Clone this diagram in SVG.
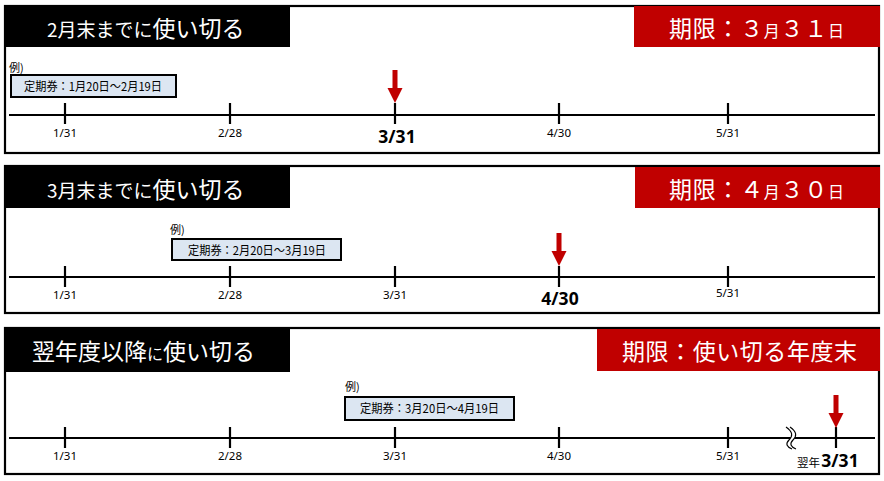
<svg xmlns="http://www.w3.org/2000/svg" width="884" height="481" viewBox="0 0 884 481">
<defs>
<style>
.panel{fill:#fff;stroke:#000;stroke-width:2.2}
.hdr{fill:#000}
.red{fill:#c00000}
.ht{font-family:"Noto Sans CJK JP","Noto Sans",sans-serif;fill:#fff}
.line{stroke:#000;stroke-width:2;fill:none}
.tick{stroke:#000;stroke-width:2.2}
.lbl{font-family:"Noto Sans","DejaVu Sans",sans-serif;font-size:11.5px;fill:#000;text-anchor:middle}
.big{font-family:"Noto Sans","DejaVu Sans",sans-serif;font-size:17.5px;font-weight:bold;fill:#000;text-anchor:middle}
.ex{font-family:"Noto Sans CJK JP",sans-serif;font-size:11px;fill:#000}
.box{fill:#dce6f2;stroke:#000;stroke-width:2}
.bt{font-family:"Noto Sans CJK JP",sans-serif;font-size:12px;fill:#000}
.arrow{fill:#c00000}
</style>
<g id="arr"><rect x="-2.5" y="0" width="5" height="19" class="arrow"/><polygon points="-7.5,18 7.5,18 0,33" class="arrow"/></g>
</defs>

<g id="panel1">
<rect class="panel" x="5" y="6" width="874" height="147"/>
<rect class="hdr" x="4" y="5" width="286" height="42"/>
<rect class="red" x="634" y="6" width="246" height="41"/>
<text class="ht" x="47" y="37"><tspan font-size="19">2月末までに</tspan><tspan font-size="23">使い切る</tspan></text>
<text class="ht" x="669" y="37" textLength="175"><tspan font-size="23">期限：３</tspan><tspan font-size="16">月</tspan><tspan font-size="23">３１</tspan><tspan font-size="16">日</tspan></text>
<text class="ex" x="9" y="72">例)</text>
<rect class="box" x="11" y="75" width="165" height="22"/>
<text class="bt" x="24" y="91" textLength="138" lengthAdjust="spacingAndGlyphs">定期券：1月20日～2月19日</text>
<line class="line" x1="9" y1="115" x2="875" y2="115"/>
<g class="tick"><line x1="65" y1="103" x2="65" y2="124"/><line x1="230" y1="103" x2="230" y2="124"/><line x1="395" y1="103" x2="395" y2="124"/><line x1="559" y1="103" x2="559" y2="124"/><line x1="728" y1="103" x2="728" y2="124"/></g>
<text class="lbl" x="65" y="137">1/31</text>
<text class="lbl" x="230" y="137">2/28</text>
<text class="big" x="397" y="143">3/31</text>
<text class="lbl" x="559" y="137">4/30</text>
<text class="lbl" x="728" y="137">5/31</text>
<use href="#arr" x="395" y="70"/>
</g>

<g id="panel2">
<rect class="panel" x="5" y="166" width="874" height="147"/>
<rect class="hdr" x="4" y="165" width="286" height="43"/>
<rect class="red" x="635" y="167" width="245" height="41"/>
<text class="ht" x="47" y="198"><tspan font-size="19">3月末までに</tspan><tspan font-size="23">使い切る</tspan></text>
<text class="ht" x="669" y="198" textLength="175"><tspan font-size="23">期限：４</tspan><tspan font-size="16">月</tspan><tspan font-size="23">３０</tspan><tspan font-size="16">日</tspan></text>
<text class="ex" x="170" y="234">例)</text>
<rect class="box" x="172" y="239" width="169" height="21"/>
<text class="bt" x="188" y="255" textLength="138" lengthAdjust="spacingAndGlyphs">定期券：2月20日～3月19日</text>
<line class="line" x1="9" y1="277" x2="875" y2="277"/>
<g class="tick"><line x1="65" y1="266" x2="65" y2="287"/><line x1="230" y1="266" x2="230" y2="287"/><line x1="395" y1="266" x2="395" y2="287"/><line x1="559" y1="266" x2="559" y2="287"/><line x1="728" y1="266" x2="728" y2="287"/></g>
<text class="lbl" x="65" y="299">1/31</text>
<text class="lbl" x="230" y="299">2/28</text>
<text class="lbl" x="395" y="299">3/31</text>
<text class="big" x="560" y="305">4/30</text>
<text class="lbl" x="728" y="297" font-size="9.5">5/31</text>
<use href="#arr" x="559" y="233"/>
</g>

<g id="panel3">
<rect class="panel" x="5" y="328" width="874" height="146"/>
<rect class="hdr" x="4" y="327" width="286" height="45"/>
<rect class="red" x="597" y="329" width="283" height="42"/>
<text class="ht" x="32" y="360"><tspan font-size="23">翌年度以降</tspan><tspan font-size="16">に</tspan><tspan font-size="23">使い切る</tspan></text>
<text class="ht" x="622" y="360" font-size="23" textLength="235">期限：使い切る年度末</text>
<text class="ex" x="345" y="391">例)</text>
<rect class="box" x="345" y="397" width="169" height="23"/>
<text class="bt" x="360" y="413" textLength="139" lengthAdjust="spacingAndGlyphs">定期券：3月20日～4月19日</text>
<line class="line" x1="9" y1="438" x2="875" y2="438"/>
<g class="tick"><line x1="65" y1="427" x2="65" y2="448"/><line x1="230" y1="427" x2="230" y2="448"/><line x1="395" y1="427" x2="395" y2="448"/><line x1="559" y1="427" x2="559" y2="448"/><line x1="728" y1="427" x2="728" y2="448"/><line x1="836" y1="427" x2="836" y2="448"/></g>
<path d="M786,427 C793,432 793,436 789,440 C785,444 787,447 792,449 L796,449 C791,447 789,444 793,440 C797,436 797,432 790,427 Z" fill="#fff"/>
<path d="M786,427 C793,432 793,436 789,440 C785,444 787,447 792,449" fill="none" stroke="#000" stroke-width="1.1"/>
<path d="M790,427 C797,432 797,436 793,440 C789,444 791,447 796,449" fill="none" stroke="#000" stroke-width="1.1"/>
<text class="lbl" x="65" y="460">1/31</text>
<text class="lbl" x="230" y="460">2/28</text>
<text class="lbl" x="395" y="460">3/31</text>
<text class="lbl" x="559" y="460">4/30</text>
<text class="lbl" x="728" y="460">5/31</text>
<text x="797" y="467" font-family="Noto Sans CJK JP,sans-serif" font-size="11.5">翌年</text>
<text class="big" x="840" y="467">3/31</text>
<use href="#arr" x="836" y="395"/>
</g>
</svg>
